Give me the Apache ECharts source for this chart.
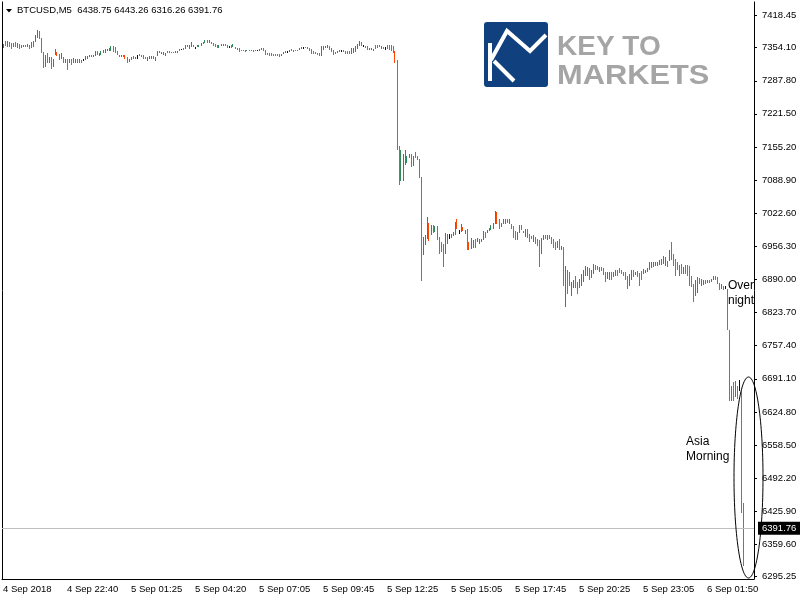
<!DOCTYPE html>
<html><head><meta charset="utf-8">
<script src="https://cdn.jsdelivr.net/npm/echarts@6/dist/echarts.min.js"></script>
<style>html,body{margin:0;padding:0;background:#fff}#c{width:800px;height:600px}</style>
</head><body><div id="c"></div>
<script>
// ---------- data ----------
const symbolName = 'BTCUSD,M5';
const lastOHLC = [6438.75, 6443.26, 6316.26, 6391.76];
const xTickLabels = ['4 Sep 2018','4 Sep 22:40','5 Sep 01:25','5 Sep 04:20','5 Sep 07:05','5 Sep 09:45',
  '5 Sep 12:25','5 Sep 15:05','5 Sep 17:45','5 Sep 20:25','5 Sep 23:05','6 Sep 01:50'];
const yTicks = [7418.45,7354.10,7287.80,7221.50,7155.20,7088.90,7022.60,6956.30,6890.00,6823.70,
  6757.40,6691.10,6624.80,6558.50,6492.20,6425.90,6359.60,6295.25];
const highs = [
  7361,7368,7368,7365,7363,7364,7365,7363,7361,7359,
  7360,7360,7361,7360,7365,7368,7380,7389,7388,7373,
  7345,7340,7343,7336,7335,7331,7351,7345,7341,7343,
  7336,7331,7332,7331,7331,7333,7332,7331,7331,7329,
  7331,7337,7337,7339,7339,7340,7347,7347,7344,7347,
  7349,7351,7352,7353,7357,7357,7355,7348,7340,7340,
  7340,7339,7335,7331,7336,7337,7336,7339,7341,7340,
  7339,7336,7335,7337,7337,7337,7336,7347,7347,7345,
  7345,7343,7347,7347,7345,7345,7347,7348,7351,7352,
  7353,7359,7360,7360,7365,7360,7356,7359,7360,7363,
  7366,7370,7369,7369,7365,7363,7361,7359,7359,7361,
  7362,7361,7359,7358,7359,7362,7355,7354,7353,7350,
  7350,7350,7350,7350,7350,7350,7350,7350,7351,7354,
  7354,7349,7343,7343,7343,7342,7342,7342,7341,7342,
  7346,7347,7347,7349,7351,7350,7350,7350,7353,7355,
  7355,7355,7355,7354,7351,7347,7346,7343,7343,7357,
  7357,7358,7359,7358,7354,7349,7346,7347,7350,7350,
  7349,7347,7347,7347,7353,7354,7357,7362,7367,7365,
  7359,7358,7357,7354,7353,7352,7359,7359,7359,7357,
  7356,7356,7359,7360,7360,7357,7348,7329,7158,7149,
  7142,7149,7138,7142,7142,7138,7146,7137,7131,7095,
  6975,6979,7015,7004,6999,6999,6996,6996,6975,6964,
  6961,6982,6980,6980,6981,6985,7006,7012,6988,7002,
  6994,6988,6990,6965,6973,6968,6971,6973,6971,6971,
  6987,6984,6988,6992,6999,7004,7027,7026,7011,7004,
  7011,7011,7011,7012,7002,6996,6986,6984,6999,6999,
  6987,6991,6991,6980,6976,6978,6975,6971,6968,6972,
  6978,6978,6978,6978,6975,6971,6964,6967,6971,6957,
  6955,6916,6908,6905,6885,6888,6896,6885,6891,6901,
  6909,6917,6915,6912,6908,6921,6919,6916,6915,6915,
  6912,6904,6904,6904,6904,6905,6908,6909,6912,6909,
  6905,6904,6896,6901,6908,6909,6905,6907,6903,6907,
  6911,6909,6912,6925,6925,6925,6924,6925,6928,6931,
  6937,6935,6927,6948,6964,6941,6931,6924,6919,6921,
  6915,6919,6919,6916,6896,6881,6888,6895,6893,6891,
  6889,6888,6888,6888,6891,6897,6896,6895,6883,6881,
  6877,6877,6871,6788,6677,6684,6687,6677,6689,6667,
  6443.26
];
const lows = [
  7353,7357,7356,7355,7351,7355,7356,7353,7351,7353,
  7356,7355,7356,7352,7353,7356,7365,7373,7372,7343,
  7314,7316,7324,7323,7312,7316,7340,7337,7329,7332,
  7323,7323,7309,7323,7320,7324,7324,7324,7324,7324,
  7327,7329,7331,7335,7335,7336,7337,7340,7337,7340,
  7343,7344,7347,7348,7348,7345,7343,7340,7335,7335,
  7335,7332,7324,7325,7329,7331,7332,7332,7337,7335,
  7332,7331,7328,7331,7331,7331,7328,7337,7343,7341,
  7340,7337,7343,7343,7343,7343,7343,7344,7347,7349,
  7349,7352,7356,7351,7355,7355,7352,7355,7356,7358,
  7361,7363,7363,7363,7361,7358,7355,7353,7354,7357,
  7358,7357,7354,7354,7354,7355,7351,7349,7346,7347,
  7347,7346,7347,7347,7347,7346,7347,7347,7347,7349,
  7347,7339,7339,7338,7338,7338,7337,7337,7335,7337,
  7341,7343,7343,7345,7347,7346,7347,7347,7349,7351,
  7351,7353,7351,7347,7342,7342,7341,7339,7338,7338,
  7350,7354,7353,7350,7345,7339,7341,7343,7346,7346,
  7345,7342,7342,7342,7342,7343,7346,7351,7358,7357,
  7355,7354,7349,7349,7349,7348,7352,7353,7355,7352,
  7351,7349,7351,7349,7348,7343,7323,7149,7079,7087,
  7088,7119,7123,7133,7115,7117,7133,7129,7094,6887,
  6939,6959,6971,6967,6979,6982,6984,6968,6941,6945,
  6915,6941,6960,6971,6973,6976,6979,6990,6980,6984,
  6987,6981,6948,6949,6951,6953,6952,6964,6960,6964,
  6968,6973,6983,6986,6988,6991,7000,7002,6991,6994,
  7000,7002,7003,7002,6991,6973,6968,6969,6983,6988,
  6982,6975,6972,6964,6971,6965,6960,6957,6915,6940,
  6968,6971,6968,6971,6961,6952,6948,6953,6948,6948,
  6877,6834,6861,6876,6857,6873,6872,6861,6872,6877,
  6884,6897,6897,6888,6892,6901,6908,6909,6904,6907,
  6899,6884,6891,6889,6889,6895,6897,6896,6903,6900,
  6896,6889,6871,6877,6888,6895,6899,6895,6877,6889,
  6900,6903,6905,6909,6913,6915,6916,6917,6919,6919,
  6921,6916,6915,6927,6929,6916,6897,6909,6897,6901,
  6900,6901,6896,6876,6875,6844,6857,6863,6881,6877,
  6879,6881,6883,6883,6884,6889,6888,6881,6868,6871,
  6868,6871,6788,6646,6647,6646,6654,6651,6667,6423,
  6316.26
];
// bar direction: u = close above open, d = close below open, n = unchanged
const dirs = [
  'ududdududu','ududuuuudd','dududuuddu','dududuudud','nuuuduuduu',
  'uuuuuddddu','ddduudundd','dduuuduudu','uudddduudn','duduudnuuu',
  'uududddduu','uddndudddd','ddududunuu','dddddddddu','uunudddduu',
  'nddddddddu','uuudddduun','dddduuuuud','ndduuudddu','dndddddddu',
  'uuuududddd','uuudududdd','duunuuudnu','dudduuduuu','uduuuuuddu',
  'uududdduud','dudddudddu','ududdddudu','dudduudduu','uuuduuddud',
  'dduuduuddd','ddduududdd','uuuuuuuuuu','uududdddud','uddddduudu',
  'ududuudddu','dnddududnd','d'
].join('');

// ---------- chart ----------
const F = '"Liberation Sans Narrow","Arial Narrow","Liberation Sans",sans-serif';
const FS = 9.5;
const N_SLOTS = 376;
const Y_MIN = 6290.2, Y_MAX = 7445.5;
const categories = Array.from({length: N_SLOTS}, (_, i) =>
  (i % 32 === 0 && i / 32 < xTickLabels.length) ? xTickLabels[i / 32] : '');
const colorOf = {u: '#2e8b57', d: '#ff4500', n: '#000080'};
const data = highs.map((h, i) => [i, h, lows[i], dirs[i]]);

const chart = echarts.init(document.getElementById('c'));
const showIdx = (i) => categories[i] !== '';

chart.setOption({
  animation: false,
  backgroundColor: '#fff',
  grid: {left: 2, top: 2, right: 46, bottom: 21},
  xAxis: {
    type: 'category', data: categories, boundaryGap: true,
    axisLine: {lineStyle: {color: '#000', width: 1}},
    axisTick: {alignWithLabel: true, length: 4, interval: showIdx, lineStyle: {color: '#000'}},
    axisLabel: {interval: showIdx, align: 'left', margin: 5, color: '#000', fontSize: FS, fontFamily: F},
    splitLine: {show: false}
  },
  yAxis: [{
    type: 'value', position: 'right', min: Y_MIN, max: Y_MAX,
    axisLine: {show: true, lineStyle: {color: '#000'}},
    axisTick: {show: true, length: 3, customValues: yTicks, lineStyle: {color: '#000'}},
    axisLabel: {customValues: yTicks, formatter: v => v.toFixed(2), margin: 8, color: '#000', fontSize: FS, fontFamily: F},
    splitLine: {show: false}
  }, {
    type: 'value', position: 'left', min: Y_MIN, max: Y_MAX,
    axisLine: {show: true, lineStyle: {color: '#000'}},
    axisTick: {show: false}, axisLabel: {show: false}, splitLine: {show: false}
  }],
  series: [{
    type: 'custom',
    data: data,
    encode: {x: 0, y: [1, 2]},
    renderItem: function (params, api) {
      const i = api.value(0);
      const top = api.coord([i, api.value(1)]);
      const bot = api.coord([i, api.value(2)]);
      const d = data[params.dataIndex][3];
      return {
        type: 'rect',
        shape: {x: Math.floor(top[0]), y: Math.round(top[1]), width: 1, height: Math.max(1, Math.round(bot[1]) - Math.round(top[1]))},
        style: {fill: colorOf[d]}
      };
    },
    markLine: {
      silent: true, symbol: ['none', 'none'], animation: false,
      lineStyle: {color: '#c0c0c0', width: 1, type: 'solid'},
      label: {show: true, position: 'end', formatter: lastOHLC[3].toFixed(2), backgroundColor: '#000',
        color: '#fff', padding: [2, 4, 1, 4], fontSize: FS, fontFamily: F, distance: 4},
      data: [{yAxis: lastOHLC[3]}]
    }
  }],
  graphic: [
    {type: 'polygon', shape: {points: [[6, 9], [12, 9], [9, 12.5]]}, style: {fill: '#000'}},
    {type: 'text', x: 17, y: 5, style: {text: symbolName + '  ' + lastOHLC.map(v => v.toFixed(2)).join(' '),
      font: FS + 'px ' + F, fill: '#000'}},
    // logo
    {type: 'rect', shape: {x: 484, y: 22, width: 64, height: 65, r: 3}, style: {fill: '#10407e'}},
    {type: 'rect', shape: {x: 488, y: 43, width: 4, height: 38}, style: {fill: '#fff'}},
    {type: 'polyline', shape: {points: [[491, 60], [507, 31], [530, 51], [546, 35]]}, style: {stroke: '#fff', lineWidth: 4, fill: null}},
    {type: 'polyline', shape: {points: [[494, 61], [514, 81]]}, style: {stroke: '#fff', lineWidth: 4, fill: null}},
    {type: 'text', x: 557, y: 33, style: {text: 'KEY TO', font: 'bold 28px "Liberation Sans"', fill: '#a5a5a5'}},
    {type: 'text', x: 557, y: 62, scaleX: 1.1, style: {text: 'MARKETS', font: 'bold 28px "Liberation Sans"', fill: '#a5a5a5'}},
    // annotations
    {type: 'text', x: 728, y: 278, style: {text: 'Over\nnight', font: '12px "Liberation Sans"', fill: '#000', lineHeight: 15}},
    {type: 'text', x: 686, y: 434, style: {text: 'Asia\nMorning', font: '12px "Liberation Sans"', fill: '#000', lineHeight: 15}},
    {type: 'ellipse', shape: {cx: 748.5, cy: 477.5, rx: 14.5, ry: 100.5}, style: {fill: null, stroke: '#000', lineWidth: 1}, z: 100}
  ]
});
</script>
</body></html>
